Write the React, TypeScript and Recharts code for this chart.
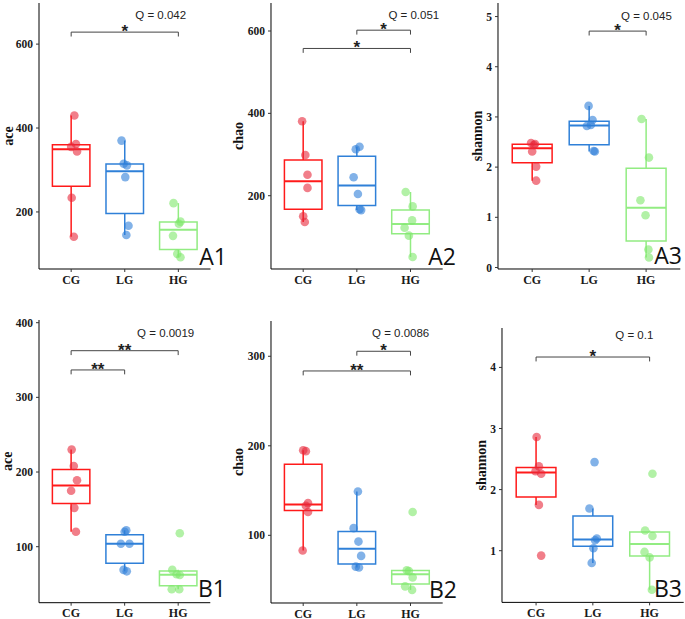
import React from 'react';
import {
  ComposedChart,
  Scatter,
  XAxis,
  YAxis,
  ReferenceArea,
  ReferenceLine,
  ReferenceDot,
} from 'recharts';

const groups = ['CG', 'LG', 'HG'];

// ---- A1: ace ----
const a1CG = [430, 362, 355, 344, 234, 141];
const a1LG = [370, 315, 311, 283, 167, 145];
const a1HG = [221, 177, 172, 143, 100, 92];
const a1Jit = [
  [0.06, 0.09, 0.0, 0.11, 0.01, 0.05],
  [-0.06, -0.02, 0.04, 0.01, 0.07, 0.03],
  [-0.09, 0.04, 0.01, -0.1, -0.02, 0.04],
];
// ---- A2: chao ----
const a2CG = [381, 299, 251, 219, 150, 136];
const a2LG = [319, 313, 245, 204, 167, 165];
const a2HG = [209, 174, 140, 122, 103, 51];
const a2Jit = [
  [-0.02, 0.04, 0.08, 0.08, 0.0, 0.03],
  [0.05, -0.02, -0.06, 0.02, 0.05, 0.08],
  [-0.09, 0.04, 0.03, -0.11, -0.03, 0.04],
];
// ---- A3: shannon ----
const a3CG = [2.48, 2.46, 2.44, 2.31, 2.01, 1.73];
const a3LG = [3.22, 2.94, 2.84, 2.82, 2.32, 2.31];
const a3HG = [2.96, 2.19, 1.34, 1.04, 0.36, 0.2];
const a3Jit = [
  [-0.02, 0.05, 0.03, 0.0, 0.07, 0.07],
  [-0.01, 0.06, 0.03, -0.04, 0.08, 0.1],
  [-0.08, 0.05, -0.1, -0.01, 0.04, 0.05],
];
// ---- B1: ace ----
const b1CG = [230, 208, 189, 175, 152, 120];
const b1LG = [122, 120, 104, 104, 69, 67];
const b1HG = [118, 69, 63, 62, 43, 43];
const b1Jit = [
  [0.01, 0.05, 0.11, 0.0, 0.06, 0.09],
  [0.03, 0.0, -0.07, 0.09, -0.02, 0.04],
  [0.03, -0.11, -0.03, 0.03, -0.12, 0.02],
];
// ---- B2: chao ----
const b2CG = [195, 194, 136, 133, 126, 83];
const b2LG = [149, 108, 93, 77, 65, 64];
const b2HG = [126, 61, 60, 53, 43, 39];
const b2Jit = [
  [0.0, 0.05, 0.09, 0.05, 0.09, -0.01],
  [0.02, -0.06, 0.03, 0.08, -0.02, 0.04],
  [0.04, -0.07, -0.03, 0.04, -0.1, 0.03],
];
// ---- B3: shannon ----
const b3CG = [2.86, 2.38, 2.3, 2.26, 1.75, 0.92];
const b3LG = [2.45, 1.69, 1.2, 1.17, 1.04, 0.8];
const b3HG = [2.26, 1.33, 1.24, 0.98, 0.89, 0.36];
const b3Jit = [
  [0.01, 0.05, -0.01, 0.09, 0.05, 0.09],
  [0.03, -0.06, 0.07, 0.04, 0.01, -0.02],
  [0.05, -0.08, 0.05, -0.09, 0.0, 0.04],
];

const strokeColors = ['#FF1A1A', '#2F80D8', '#92EC82'];
const pointColors = ['#E8283A', '#2E7FD8', '#7EE86A'];

type Bracket = { from: number; to: number; y: number; label: string };
type PanelCfg = {
  tag: string;
  metric: string;
  values: number[][];
  jitter: number[][];
  domain: [number, number];
  ticks: number[];
  brackets: Bracket[];
  q: { text: string; x: number; y: number };
  plot: { left: number; right: number; top: number; bottom: number };
  labelX: number;
  tagPos: { x: number; y: number };
};

const panels: PanelCfg[] = [
  {
    tag: 'A1', metric: 'ace', values: [a1CG, a1LG, a1HG], jitter: a1Jit,
    domain: [64, 698], ticks: [200, 400, 600],
    brackets: [{ from: 1, to: 3, y: 628.6, label: '*' }],
    q: { text: 'Q = 0.042', x: 2.671, y: 660.2 },
    plot: { left: 38.5, right: 210, top: 3, bottom: 269 }, labelX: 7.5,
    tagPos: { x: 227, y: 265 },
  },
  {
    tag: 'A2', metric: 'chao', values: [a2CG, a2LG, a2HG], jitter: a2Jit,
    domain: [22, 668], ticks: [200, 400, 600],
    brackets: [
      { from: 2, to: 3, y: 602, label: '*' },
      { from: 1, to: 3, y: 557.6, label: '*' },
    ],
    q: { text: 'Q = 0.051', x: 3.062, y: 630.3 },
    plot: { left: 271, right: 442.7, top: 3, bottom: 269 }, labelX: 239,
    tagPos: { x: 456, y: 265 },
  },
  {
    tag: 'A3', metric: 'shannon', values: [a3CG, a3LG, a3HG], jitter: a3Jit,
    domain: [-0.03, 5.27], ticks: [0, 1, 2, 3, 4, 5],
    brackets: [{ from: 2, to: 3, y: 4.71, label: '*' }],
    q: { text: 'Q = 0.045', x: 3.005, y: 4.939 },
    plot: { left: 497.7, right: 680, top: 3, bottom: 269 }, labelX: 477.3,
    tagPos: { x: 682, y: 264 },
  },
  {
    tag: 'B1', metric: 'ace', values: [b1CG, b1LG, b1HG], jitter: b1Jit,
    domain: [25, 403.6], ticks: [100, 200, 300, 400],
    brackets: [
      { from: 1, to: 3, y: 362.5, label: '**' },
      { from: 1, to: 2, y: 336.7, label: '**' },
    ],
    q: { text: 'Q = 0.0019', x: 2.767, y: 381.3 },
    plot: { left: 38.7, right: 210, top: 320, bottom: 602.7 }, labelX: 7,
    tagPos: { x: 226, y: 597 },
  },
  {
    tag: 'B2', metric: 'chao', values: [b2CG, b2LG, b2HG], jitter: b2Jit,
    domain: [24.4, 339.4], ticks: [100, 200, 300],
    brackets: [
      { from: 2, to: 3, y: 305.6, label: '*' },
      { from: 1, to: 3, y: 283.6, label: '**' },
    ],
    q: { text: 'Q = 0.0086', x: 2.816, y: 321.6 },
    plot: { left: 271, right: 442.7, top: 320.7, bottom: 602.7 }, labelX: 238.7,
    tagPos: { x: 457, y: 597.5 },
  },
  {
    tag: 'B3', metric: 'shannon', values: [b3CG, b3LG, b3HG], jitter: b3Jit,
    domain: [0.154, 4.645], ticks: [1, 2, 3, 4],
    brackets: [{ from: 1, to: 3, y: 4.17, label: '*' }],
    q: { text: 'Q = 0.1', x: 2.731, y: 4.47 },
    plot: { left: 501.7, right: 683.4, top: 328.3, bottom: 602.7 }, labelX: 480.8,
    tagPos: { x: 682, y: 597 },
  },
];

function quantile(sorted: number[], p: number) {
  const h = (sorted.length - 1) * p;
  const lo = Math.floor(h);
  const hi = Math.min(lo + 1, sorted.length - 1);
  return sorted[lo] + (h - lo) * (sorted[hi] - sorted[lo]);
}

function boxStats(vals: number[]) {
  const s = [...vals].sort((a, b) => a - b);
  const q1 = quantile(s, 0.25);
  const med = quantile(s, 0.5);
  const q3 = quantile(s, 0.75);
  const iqr = q3 - q1;
  const lo = Math.min(...s.filter((v) => v >= q1 - 1.5 * iqr));
  const hi = Math.max(...s.filter((v) => v <= q3 + 1.5 * iqr));
  return { q1, med, q3, lo, hi };
}

const serif = '"Liberation Serif", "Times New Roman", serif';
const sans = '"Liberation Sans", Arial, sans-serif';
const HALF = 0.35;

function Panel({ p }: { p: PanelCfg }) {
  const yAxisW = 40;
  const mTop = 5;
  const mRight = 5;
  const xAxisH = 30;
  const W = p.plot.right - p.plot.left + yAxisW + mRight;
  const H = p.plot.bottom - p.plot.top + mTop + xAxisH;
  const left = p.plot.left - yAxisW;
  const top = p.plot.top - mTop;
  const pxPerUnit = (p.plot.bottom - p.plot.top) / (p.domain[1] - p.domain[0]);
  const drop = 4.4 / pxPerUnit;
  const labelCx = p.labelX - left;
  const labelCy = mTop + (p.plot.bottom - p.plot.top) / 2;

  const stats = p.values.map(boxStats);

  return (
    <div style={{ position: 'absolute', left, top, width: W, height: H }}>
      <ComposedChart width={W} height={H} margin={{ top: mTop, right: mRight, bottom: 0, left: 0 }}>
        <XAxis
          type="number"
          dataKey="x"
          domain={[0.4, 3.6]}
          ticks={[1, 2, 3]}
          allowDataOverflow
          interval={0}
          height={xAxisH}
          tickFormatter={(v: number) => groups[Math.round(v) - 1]}
          tick={{ fontFamily: serif, fontWeight: 'bold', fontSize: 12, fill: '#1a1a1a' }}
          tickSize={3}
          tickMargin={3}
          axisLine={{ stroke: '#000', strokeWidth: 1 }}
          tickLine={{ stroke: '#333' }}
        />
        <YAxis
          type="number"
          dataKey="y"
          domain={p.domain}
          ticks={p.ticks}
          allowDataOverflow
          interval={0}
          width={yAxisW}
          tick={{ fontFamily: serif, fontWeight: 'bold', fontSize: 11.5, fill: '#1a1a1a' }}
          tickSize={3}
          tickMargin={3}
          axisLine={{ stroke: '#000', strokeWidth: 1 }}
          tickLine={{ stroke: '#333' }}
          label={{
            content: () => (
              <text
                x={labelCx}
                y={labelCy}
                transform={`rotate(-90 ${labelCx} ${labelCy})`}
                textAnchor="middle"
                dominantBaseline="central"
                fontFamily={serif}
                fontWeight="bold"
                fontSize={14}
                fill="#111"
              >
                {p.metric}
              </text>
            ),
          }}
        />
        {stats.map((s, i) => (
          <ReferenceArea
            key={`box${i}`}
            x1={i + 1 - HALF}
            x2={i + 1 + HALF}
            y1={s.q1}
            y2={s.q3}
            fill="none"
            fillOpacity={0}
            stroke={strokeColors[i]}
            strokeWidth={1.5}
            ifOverflow="visible"
          />
        ))}
        {stats.map((s, i) => (
          <ReferenceLine
            key={`med${i}`}
            segment={[{ x: i + 1 - HALF, y: s.med }, { x: i + 1 + HALF, y: s.med }]}
            stroke={strokeColors[i]}
            strokeWidth={2}
            ifOverflow="visible"
          />
        ))}
        {stats.map((s, i) => (
          <ReferenceLine
            key={`wh${i}`}
            segment={[{ x: i + 1, y: s.q3 }, { x: i + 1, y: s.hi }]}
            stroke={strokeColors[i]}
            strokeWidth={1.5}
            ifOverflow="visible"
          />
        ))}
        {stats.map((s, i) => (
          <ReferenceLine
            key={`wl${i}`}
            segment={[{ x: i + 1, y: s.q1 }, { x: i + 1, y: s.lo }]}
            stroke={strokeColors[i]}
            strokeWidth={1.5}
            ifOverflow="visible"
          />
        ))}
        {p.values.map((vals, i) => (
          <Scatter
            key={`pts${i}`}
            data={vals.map((v, j) => ({ x: i + 1 + p.jitter[i][j], y: v }))}
            isAnimationActive={false}
            fill={pointColors[i]}
            shape={(props: any) => (
              <circle cx={props.cx} cy={props.cy} r={4.3} fill={pointColors[i]} fillOpacity={0.6} />
            )}
          />
        ))}
        {p.brackets.map((b, k) => (
          <ReferenceLine
            key={`bh${k}`}
            segment={[{ x: b.from, y: b.y }, { x: b.to, y: b.y }]}
            stroke="#444"
            strokeWidth={1}
            ifOverflow="visible"
          />
        ))}
        {p.brackets.map((b, k) => (
          <ReferenceLine
            key={`bl${k}`}
            segment={[{ x: b.from, y: b.y }, { x: b.from, y: b.y - drop }]}
            stroke="#444"
            strokeWidth={1}
            ifOverflow="visible"
          />
        ))}
        {p.brackets.map((b, k) => (
          <ReferenceLine
            key={`br${k}`}
            segment={[{ x: b.to, y: b.y }, { x: b.to, y: b.y - drop }]}
            stroke="#444"
            strokeWidth={1}
            ifOverflow="visible"
          />
        ))}
        {p.brackets.map((b, k) => (
          <ReferenceDot
            key={`bs${k}`}
            x={(b.from + b.to) / 2}
            y={b.y}
            r={0}
            ifOverflow="visible"
            shape={(props: any) => (
              <text
                x={props.cx}
                y={props.cy + 5}
                textAnchor="middle"
                fontFamily={sans}
                fontWeight="bold"
                fontSize={17}
                fill="#222"
              >
                {b.label}
              </text>
            )}
          />
        ))}
        <ReferenceDot
          x={p.q.x}
          y={p.q.y}
          r={0}
          ifOverflow="visible"
          shape={(props: any) => (
            <text x={props.cx} y={props.cy} textAnchor="middle" fontFamily={sans} fontSize={11.5} fill="#222">
              {p.q.text}
            </text>
          )}
        />
      </ComposedChart>
    </div>
  );
}

export default function App() {
  return (
    <div style={{ position: 'absolute', left: 0, top: 0, width: 685, height: 619, background: '#fff', overflow: 'hidden' }}>
      {panels.map((p) => (
        <Panel key={p.tag} p={p} />
      ))}
      <svg
        width={685}
        height={619}
        style={{ position: 'absolute', left: 0, top: 0, pointerEvents: 'none' }}
      >
        {panels.map((p) => (
          <text
            key={p.tag}
            x={p.tagPos.x}
            y={p.tagPos.y}
            textAnchor="end"
            fontFamily='"Open Sans", "Noto Sans", sans-serif'
            fontSize={23}
            fill="#111"
          >
            {p.tag}
          </text>
        ))}
      </svg>
    </div>
  );
}
